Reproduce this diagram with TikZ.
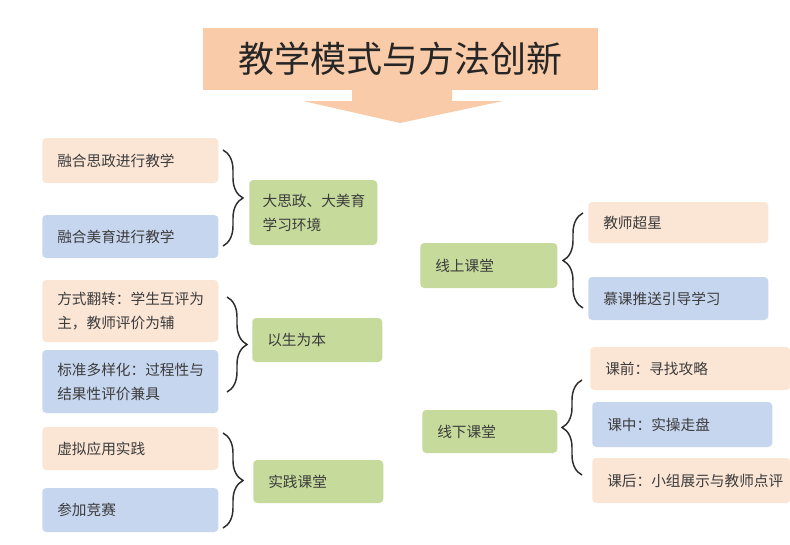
\documentclass[tikz,border=0pt]{standalone}
\usepackage{fontspec}
\setmainfont{Noto Sans CJK SC}
\usetikzlibrary{decorations.pathreplacing}
\definecolor{pkc}{RGB}{251,229,213}
\definecolor{blc}{RGB}{199,214,239}
\definecolor{grc}{RGB}{197,218,155}
\definecolor{ttl}{RGB}{249,203,168}
\definecolor{txt}{RGB}{60,60,60}
\definecolor{brk}{RGB}{45,45,45}
\begin{document}
\begin{tikzpicture}[x=0.75pt,y=-0.75pt,
  base/.style={rounded corners=3pt, inner xsep=11.25pt, inner ysep=0pt, anchor=west,
    align=left, font=\fontsize{11}{18}\selectfont, text=txt},
  pk/.style={base, fill=pkc},
  bl/.style={base, fill=blc},
  gr/.style={base, fill=grc},
  brc/.style={draw=brk, line width=1.1pt, decorate, decoration={brace, amplitude=15pt}},
  titlebox/.style={fill=ttl, minimum width=296.25pt, minimum height=46.5pt, inner sep=0pt,
    font=\fontsize{27}{32}\selectfont, text=black!85}]
\useasboundingbox (0,0) rectangle (790,544);
\fill[white] (0,0) rectangle (790,544);

% title banner and arrow
\node[titlebox] (title) at (400.5,59) {教学模式与方法创新};
\fill[ttl] (352,89) -- (452,89) -- (452,101) -- (503,101) -- (400,123) -- (303,101) -- (352,101) -- cycle;

% left column
\node[pk, text width=109.5pt, minimum height=33.75pt] (a1) at (42,160.5) {融合思政进行教学};
\node[bl, text width=109.5pt, minimum height=32.25pt] (a2) at (42,236.5) {融合美育进行教学};
\node[pk, text width=109.5pt, minimum height=46.5pt] (a3) at (42,311) {方式翻转：学生互评为\\主，教师评价为辅};
\node[bl, text width=109.5pt, minimum height=47.25pt] (a4) at (42,381.5) {标准多样化：过程性与\\结果性评价兼具};
\node[pk, text width=109.5pt, minimum height=32.25pt] (a5) at (42,448.5) {虚拟应用实践};
\node[bl, text width=109.5pt, minimum height=33pt] (a6) at (42,510) {参加竞赛};

% green middle-left
\node[gr, inner xsep=10pt, text width=76pt, minimum height=48.75pt] (g1) at (249,212.5) {大思政、大美育\\学习环境};
\node[gr, text width=75pt, minimum height=33pt] (g2) at (252,340) {以生为本};
\node[gr, text width=75pt, minimum height=32.25pt] (g3) at (253,481.5) {实践课堂};

% green middle-right
\node[gr, text width=80.25pt, minimum height=33.75pt] (g4) at (420,265.5) {线上课堂};
\node[gr, text width=78.75pt, minimum height=32.25pt] (g5) at (422,431.5) {线下课堂};

% right column
\node[pk, text width=112.5pt, minimum height=30.75pt] (r1) at (588,222.5) {教师超星};
\node[bl, text width=112.5pt, minimum height=32.25pt] (r2) at (588,298.5) {慕课推送引导学习};
\node[pk, text width=127.5pt, minimum height=32.25pt] (r3) at (590,368.5) {课前：寻找攻略};
\node[bl, text width=112.5pt, minimum height=33.75pt] (r4) at (592,424.5) {课中：实操走盘};
\node[pk, text width=126pt, minimum height=33.75pt] (r5) at (592,480.5) {课后：小组展示与教师点评};

% brace end points
\coordinate (b1t) at (223,150); \coordinate (b1b) at (223,246);
\coordinate (b2t) at (227,297); \coordinate (b2b) at (227,392);
\coordinate (b3t) at (223,433); \coordinate (b3b) at (223,528);
\coordinate (b4t) at (583,213); \coordinate (b4b) at (583,308);
\coordinate (b5t) at (582,380); \coordinate (b5b) at (582,475);

\draw[brc] (b1t) -- (b1b);
\draw[brc] (b2t) -- (b2b);
\draw[brc] (b3t) -- (b3b);
\draw[brc] (b4b) -- (b4t);
\draw[brc] (b5b) -- (b5t);
\end{tikzpicture}
\end{document}
